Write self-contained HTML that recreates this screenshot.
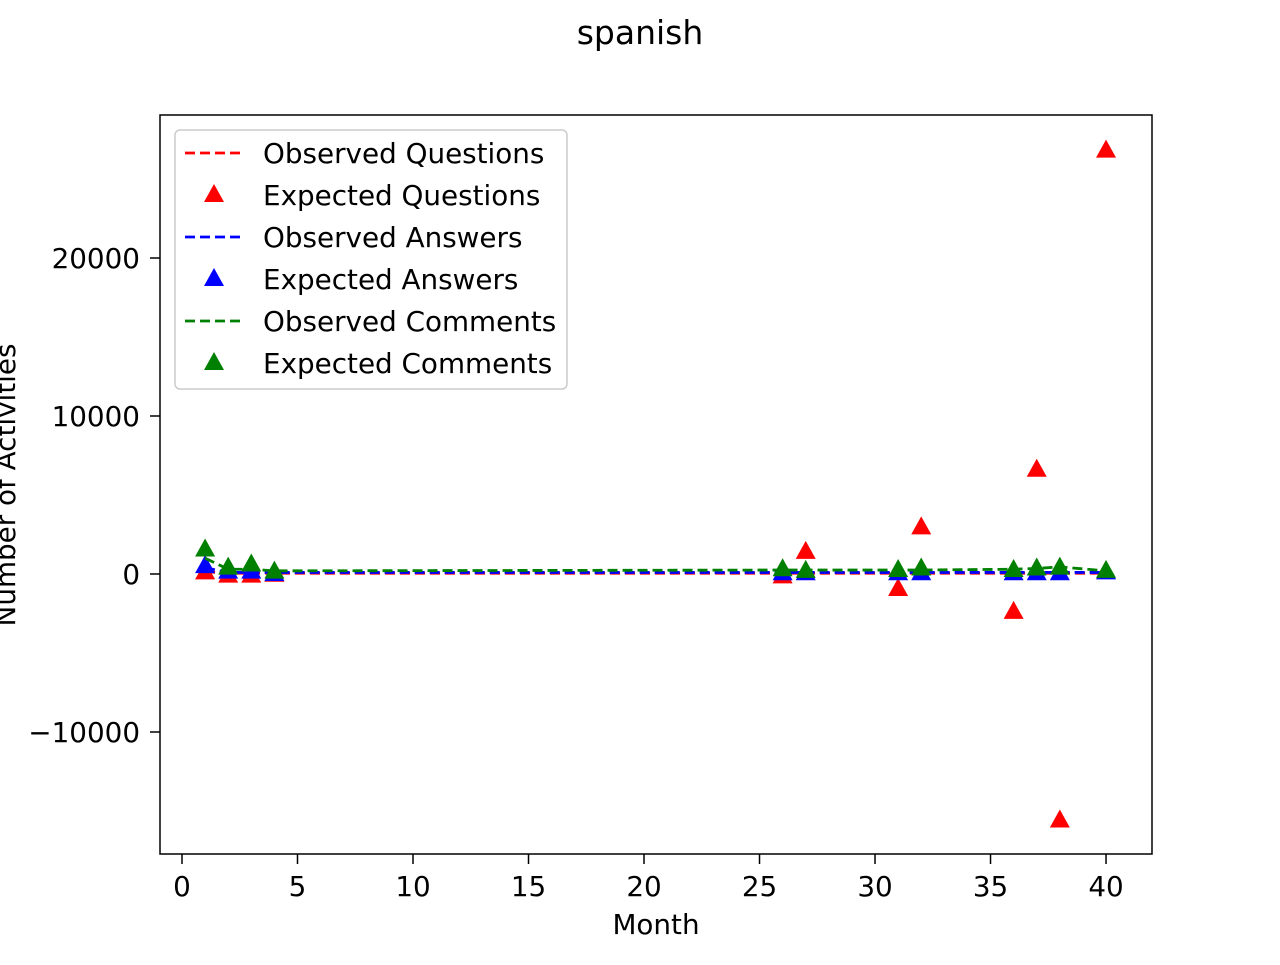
<!DOCTYPE html>
<html><head><meta charset="utf-8"><style>
body{margin:0;background:#fff;font-family:"Liberation Sans","DejaVu Sans",sans-serif}
</style></head><body>
<svg id="c" width="1280" height="960" xmlns="http://www.w3.org/2000/svg" font-family="DejaVu Sans, Liberation Sans, sans-serif"></svg>
<script>
const months=[1,2,3,4,26,27,31,32,36,37,38,40];
const obsQ=[150,50,50,50,50,50,50,50,50,50,50,50];
const expQ=[100,-100,-100,-50,-150,1400,-950,2950,-2400,6600,-15600,26800];
const obsA=[400,100,100,100,100,100,100,100,100,100,100,100];
const expA=[500,150,150,0,50,50,50,50,50,50,50,100];
const obsC=[1000,300,300,200,250,250,250,250,300,350,450,200];
const expC=[1550,400,600,150,300,200,250,350,250,350,400,200];
const xTicks=[0,5,10,15,20,25,30,35,40];
const yTicks=[-10000,0,10000,20000];
const yTickLabels=["\u221210000","0","10000","20000"];
const L=160,R=1152,T=115,B=854;
const xMin=-0.952,xMax=41.99,yMin=-17722,yMax=29051;
const X=v=>L+(v-xMin)/(xMax-xMin)*(R-L);
const Y=v=>B-(v-yMin)/(yMax-yMin)*(B-T);
const svg=document.getElementById('c');
const NS='http://www.w3.org/2000/svg';
const FS=27.8;
function mk(tag,attrs,parent){const e=document.createElementNS(NS,tag);for(const k in attrs)e.setAttribute(k,attrs[k]);(parent||svg).appendChild(e);return e;}
let t=mk('text',{x:640,y:44,'text-anchor':'middle','font-size':33});t.textContent='spanish';


const g=mk('g',{});


function line(vals,color,name){
  const p=mk('polyline',{points:months.map((m,i)=>X(m)+','+Y(vals[i])).join(' '),fill:'none',stroke:color,'stroke-width':2.8,'stroke-dasharray':'10,5'},g);
  
  
}
function tri(x,y,color,parent){
  return mk('polygon',{points:`${x},${y-11} ${x-10},${y+7} ${x+10},${y+7}`,fill:color},parent);
}
function marks(vals,color,name){
  months.forEach((m,i)=>{const p=tri(X(m),Y(vals[i]),color,g);
  
  });
}
line(obsQ,'#ff0000','observed-questions-line');
marks(expQ,'#ff0000','expected-questions-marker');
line(obsA,'#0000ff','observed-answers-line');
marks(expA,'#0000ff','expected-answers-marker');
line(obsC,'#008000','observed-comments-line');
marks(expC,'#008000','expected-comments-marker');
const fr=mk('rect',{x:L,y:T,width:R-L,height:B-T,fill:'none',stroke:'#000','stroke-width':1.5});


xTicks.forEach(v=>{mk('line',{x1:X(v),x2:X(v),y1:B,y2:B+10,stroke:'#000','stroke-width':1.5});
  const tx=mk('text',{x:X(v),y:B+42,'text-anchor':'middle','font-size':FS});tx.textContent=v;
  
  });
yTicks.forEach((v,i)=>{mk('line',{x1:L-10,x2:L,y1:Y(v),y2:Y(v),stroke:'#000','stroke-width':1.5});
  const tx=mk('text',{x:L-20,y:Y(v)+10,'text-anchor':'end','font-size':FS});tx.textContent=yTickLabels[i];
  
  });
t=mk('text',{x:656,y:934,'text-anchor':'middle','font-size':FS});t.textContent='Month';


t=mk('text',{x:0,y:0,'text-anchor':'middle','font-size':FS,transform:'translate(15,485) rotate(-90)'});t.textContent='Number of Activities';


const lg=mk('g',{});


mk('rect',{x:175,y:130,width:392,height:259,rx:5,fill:'#fff','fill-opacity':0.8,stroke:'#ccc','stroke-width':1.5},lg);
const entries=[['Observed Questions','#ff0000',1],['Expected Questions','#ff0000',0],['Observed Answers','#0000ff',1],['Expected Answers','#0000ff',0],['Observed Comments','#008000',1],['Expected Comments','#008000',0]];
entries.forEach((e,i)=>{const y=153+i*42;
  const eg=mk('g',{},lg);
  
  
  if(e[2])mk('line',{x1:185,x2:243,y1:y,y2:y,stroke:e[1],'stroke-width':2.8,'stroke-dasharray':'10,5'},eg);
  else tri(214,y,e[1],eg);
  const tx=mk('text',{x:263,y:y+10,'font-size':FS},eg);tx.textContent=e[0];});
</script>
</body></html>
